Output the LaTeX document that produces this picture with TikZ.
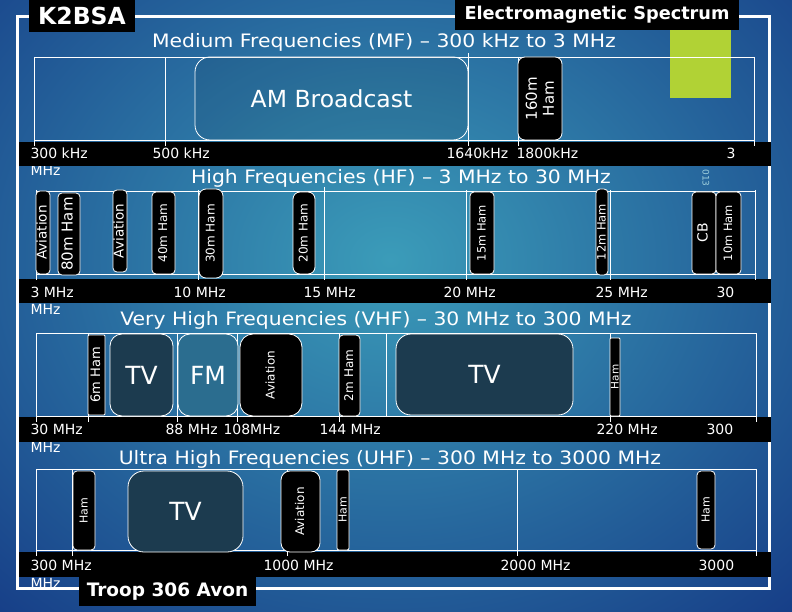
\documentclass[tikz,border=0pt]{standalone}
\usepackage{fontspec}
\setmainfont{DejaVu Sans}
\newfontfamily\widesans{DejaVu Sans}[FakeStretch=1.1]
\definecolor{bgdark}{HTML}{173F88}
\definecolor{bglite}{HTML}{3B9CB9}
\definecolor{tvfill}{HTML}{1C3B4F}
\definecolor{fmfill}{HTML}{2B6D8F}
\definecolor{grnbox}{HTML}{B1D235}

\begin{document}
\begin{tikzpicture}[x=1pt,y=-1pt,
  band/.style={draw=white, line width=0.8pt},
  freq/.style={white, anchor=base west, font=\fontsize{14}{16}\selectfont},
  heading/.style={anchor=base, text=white, font=\widesans\fontsize{18.5}{20}\selectfont},
  bandbox/.style={draw=white, fill=black, line width=0.8pt, rounded corners=4pt, rotate=90, inner sep=0pt, text=white},
  slot/.style={bandbox, text height=0.73em, text depth=0pt, font=\fontsize{12}{14}\selectfont},
  bigbox/.style={draw=white, line width=0.8pt, rounded corners=12pt, inner sep=0pt, text=white, font=\fontsize{25}{28}\selectfont},
  tag/.style={fill=black, text=white, inner sep=0pt, font=\bfseries\fontsize{17.7}{20}\selectfont}]
 \useasboundingbox (0,0) rectangle (792,612);
 \fill[bgdark] (0,0) rectangle (792,612);
 \begin{scope}
  \clip (0,0) rectangle (792,612);
  \shade[inner color=bglite, outer color=bgdark] (390,260) ellipse (580pt and 480pt);
 \end{scope}
 \draw[white, line width=3pt] (17.5,17) rectangle (769.5,588.5);
 \fill[grnbox] (670,30) rectangle (731,98);
 \node[rotate=-90, anchor=west, text=bglite!50!white, font=\fontsize{9}{10}\selectfont] (year) at (706,166) {013};

 \node[heading] (mftitle) at (384,48) {Medium Frequencies (MF) – 300 kHz to 3 MHz};
 \node[heading] (hftitle) at (401,184) {High Frequencies (HF) – 3 MHz to 30 MHz};
 \node[heading] (vhftitle) at (376,325) {Very High Frequencies (VHF) – 30 MHz to 300 MHz};
 \node[heading] (uhftitle) at (390,464) {Ultra High Frequencies (UHF) – 300 MHz to 3000 MHz};

 \node[freq] (mfunit) at (27,176) {MHz};
 \node[freq] (hfunit) at (27,314) {MHz};
 \node[freq] (vhfunit) at (27,452) {MHz};
 \node[freq] (uhfunit) at (27,588) {MHz};

 \fill[black] (19,142) rectangle (771,166);
 \fill[black] (19,279) rectangle (771,303);
 \fill[black] (19,417) rectangle (771,442);
 \fill[black] (19,552) rectangle (771,577);

 \draw[band] (34,57) rectangle (754,140);
 \foreach \x in {34,165,518,754} \draw[band] (\x,57) -- (\x,146);
 \draw[band] (468,53) -- (468,146);
 \draw[band] (36,191) rectangle (755,274);
 \foreach \x in {36,198,466,610,755} \draw[band] (\x,190) -- (\x,280);
 \draw[band] (324,187) -- (324,280);
 \draw[band] (36,333) rectangle (756,416);
 \foreach \x in {36,88,177,237,339,610,756} \draw[band] (\x,333) -- (\x,422);
 \draw[band] (386,333) -- (386,416);
 \draw[band] (36,469) rectangle (756,550);
 \foreach \x in {36,72,287,517,756} \draw[band] (\x,469) -- (\x,556);

 \node[freq] (f300k) at (27,159) {300 kHz};
 \node[freq] (f500k) at (149,159) {500 kHz};
 \node[freq] (f1640) at (443,159) {1640kHz};
 \node[freq] (f1800) at (513,159) {1800kHz};
 \node[freq] (f3m) at (723,159) {3};
 \node[freq] (h3) at (27,297) {3 MHz};
 \node[freq] (h10) at (170,297) {10 MHz};
 \node[freq] (h15) at (300,297) {15 MHz};
 \node[freq] (h20) at (440,297) {20 MHz};
 \node[freq] (h25) at (592,297) {25 MHz};
 \node[freq] (h30) at (713,297) {30};
 \node[freq] (v30) at (27,434) {30 MHz};
 \node[freq] (v88) at (162,434) {88 MHz};
 \node[freq] (v108) at (220,434) {108MHz};
 \node[freq] (v144) at (316,434) {144 MHz};
 \node[freq] (v220) at (593,434) {220 MHz};
 \node[freq] (v300) at (703,434) {300};
 \node[freq] (u300) at (27,570) {300 MHz};
 \node[freq] (u1000) at (260,570) {1000 MHz};
 \node[freq] (u2000) at (497,570) {2000 MHz};
 \node[freq] (u3000) at (695,570) {3000};

 \node[bigbox, minimum width=273pt, minimum height=83pt, rounded corners=15pt, fill=black, fill opacity=0.08, text opacity=1, font=\fontsize{23.5}{26}\selectfont] (am) at (331.5,98.5) {AM Broadcast};
 \node[bandbox, minimum width=83pt, minimum height=44pt, rounded corners=7pt, align=center, font=\fontsize{15}{17}\selectfont] (ham160) at (540,98.5) {160m\\Ham};

 \node[slot, minimum width=83pt, minimum height=14pt, font=\fontsize{13.5}{15}\selectfont] (avhf1) at (43,232.5) {Aviation};
 \node[slot, minimum width=82pt, minimum height=22pt, font=\fontsize{15}{17}\selectfont] (ham80) at (69,234) {80m Ham};
 \node[slot, minimum width=82pt, minimum height=14pt, font=\fontsize{13.5}{15}\selectfont] (avhf2) at (120,231) {Aviation};
 \node[slot, minimum width=82pt, minimum height=23pt] (ham40) at (163.5,233) {40m Ham};
 \node[slot, minimum width=89pt, minimum height=24pt, rounded corners=7pt] (ham30) at (211,233.5) {30m Ham};
 \node[slot, minimum width=82pt, minimum height=22pt, rounded corners=7pt] (ham20) at (304,233) {20m Ham};
 \node[slot, minimum width=82pt, minimum height=24pt, font=\fontsize{11.5}{14}\selectfont] (ham15) at (482,233) {15m Ham};
 \node[slot, minimum width=86pt, minimum height=12pt, font=\fontsize{11.5}{14}\selectfont] (ham12) at (602,232) {12m Ham};
 \node[slot, minimum width=82pt, minimum height=24pt, font=\fontsize{14}{16}\selectfont] (cb) at (704,233) {CB};
 \node[slot, minimum width=82pt, minimum height=25pt, font=\fontsize{11.5}{14}\selectfont] (ham10) at (728.5,233) {10m Ham};

 \node[slot, minimum width=80pt, minimum height=17pt, rounded corners=1pt, font=\fontsize{13}{15}\selectfont] (ham6) at (96.5,375) {6m Ham};
 \node[bigbox, fill=tvfill, minimum width=63pt, minimum height=82pt] (tvlow) at (141.5,375) {TV};
 \node[bigbox, fill=fmfill, minimum width=60pt, minimum height=82pt] (fm) at (208,375) {FM};
 \node[slot, minimum width=82pt, minimum height=62pt, rounded corners=13pt] (avvhf) at (271,375) {Aviation};
 \node[slot, minimum width=81pt, minimum height=21pt] (ham2) at (349.5,375.5) {2m Ham};
 \node[bigbox, fill=tvfill, minimum width=177pt, minimum height=81pt, rounded corners=15pt] (tvhigh) at (484.5,374.5) {TV};
 \node[slot, minimum width=78pt, minimum height=10pt, rounded corners=1pt, font=\fontsize{10.5}{12}\selectfont] (ham125) at (615,377) {Ham};

 \node[slot, minimum width=79pt, minimum height=22pt, font=\fontsize{11}{13}\selectfont] (ham70) at (84,510.5) {Ham};
 \node[bigbox, fill=tvfill, minimum width=115pt, minimum height=81pt, rounded corners=16pt] (tvuhf) at (185.5,511.5) {TV};
 \node[slot, minimum width=81pt, minimum height=39pt, rounded corners=9pt] (avuhf) at (300.5,511.5) {Aviation};
 \node[slot, minimum width=80pt, minimum height=12pt, rounded corners=2pt, font=\fontsize{11}{13}\selectfont] (ham23) at (343,510) {Ham};
 \node[slot, minimum width=78pt, minimum height=18pt, font=\fontsize{11}{13}\selectfont] (ham13) at (706,510) {Ham};

 \node[tag, minimum width=106pt, minimum height=32pt, font=\bfseries\fontsize{23.5}{26}\selectfont] (call) at (82,16) {K2BSA};
 \node[tag, minimum width=284pt, minimum height=30pt] (emtitle) at (597,15) {Electromagnetic Spectrum};
 \node[tag, minimum width=177pt, minimum height=29pt, font=\bfseries\fontsize{18.5}{20}\selectfont] (troop) at (167.5,591.5) {Troop 306 Avon};
\end{tikzpicture}
\end{document}
